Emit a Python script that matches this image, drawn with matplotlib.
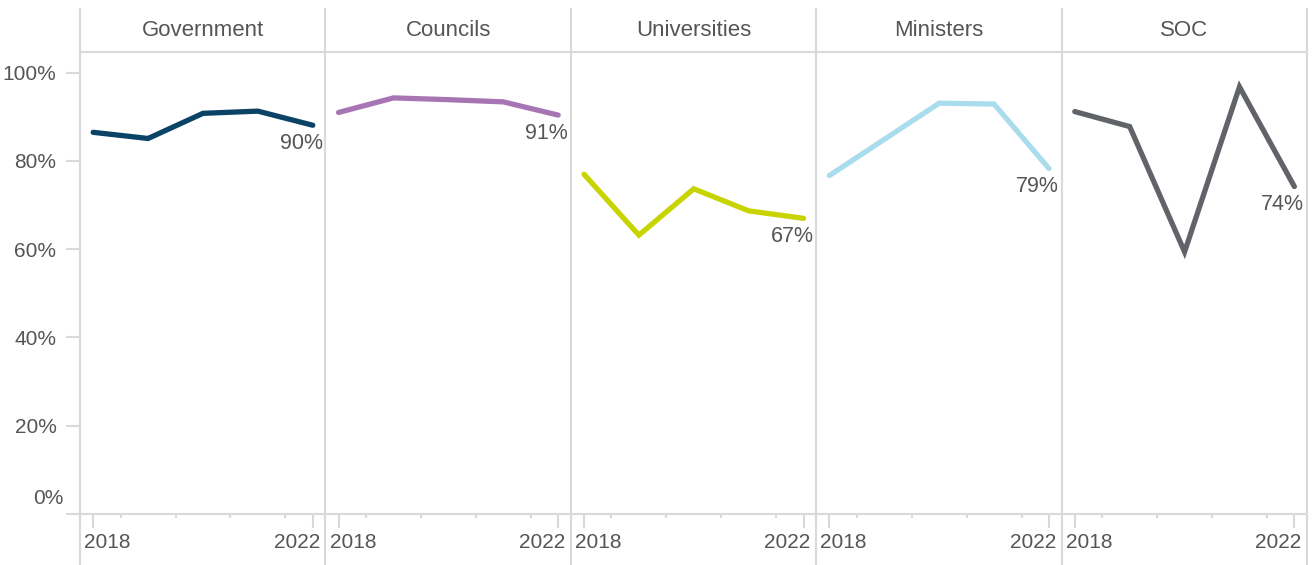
import matplotlib
matplotlib.use('Agg')
import matplotlib.pyplot as plt
from matplotlib.lines import Line2D
import matplotlib.transforms as mtrans

plt.rcParams['font.family'] = ['Liberation Sans', 'DejaVu Sans']

categories = ['Government', 'Councils', 'Universities', 'Ministers', 'SOC']
colors = ['#0b4366', '#a775b4', '#c8d400', '#a9ddee', '#606368']

gov_years = [2018, 2019, 2020, 2021, 2022]
gov_values = [86.5, 85.1, 90.8, 91.3, 88.1]
councils_years = [2018, 2019, 2020, 2021, 2022]
councils_values = [91.0, 94.3, 93.9, 93.4, 90.4]
univ_years = [2018, 2019, 2020, 2021, 2022]
univ_values = [77.0, 63.2, 73.7, 68.7, 67.0]
ministers_years = [2018, 2020, 2021, 2022]
ministers_values = [76.7, 93.1, 92.9, 78.3]
soc_years = [2018, 2019, 2020, 2021, 2022]
soc_values = [91.2, 87.8, 59.4, 96.8, 74.2]

end_labels = ['90%', '91%', '67%', '79%', '74%']
y_ticks = [0, 20, 40, 60, 80, 100]
y_tick_labels = ['0%', '20%', '40%', '60%', '80%', '100%']
x_major = [2018, 2022]
x_major_labels = ['2018', '2022']
x_minor = [2018.5, 2019.5, 2020.5, 2021.5]

series_years = [gov_years, councils_years, univ_years, ministers_years, soc_years]
series_values = [gov_values, councils_values, univ_values, ministers_values, soc_values]

W, H = 1315, 565
fig = plt.figure(figsize=(W / 100, H / 100), dpi=100)
grid = '#d9d9d9'
txt = '#555555'
left0 = 80
pw = 245.4
top = 52
bottom = 514

for i, cat in enumerate(categories):
    l = left0 + i * pw
    ax = fig.add_axes([l / W, (H - bottom) / H, pw / W, (bottom - top) / H])
    ax.patch.set_alpha(0)
    ax.plot(series_years[i], series_values[i], color=colors[i], lw=3.8,
            solid_capstyle='round', solid_joinstyle='miter', clip_on=False, zorder=3)
    ax.set_xlim(2017.76, 2022.23)
    ax.set_ylim(0, 104.7)
    for s in ax.spines.values():
        s.set_visible(False)
    ax.spines['bottom'].set_visible(True)
    ax.spines['bottom'].set_color(grid)
    ax.spines['bottom'].set_linewidth(1.5)
    ax.set_xticks(x_major)
    ax.set_xticks(x_minor, minor=True)
    ax.tick_params(axis='x', which='major', length=10, width=1.5, color=grid, labelbottom=False)
    ax.tick_params(axis='x', which='minor', length=3, width=1.5, color=grid, labelbottom=False)
    # x labels
    t1 = ax.get_xaxis_transform() + mtrans.ScaledTranslation(-0.09, -0.28, fig.dpi_scale_trans)
    t2 = ax.get_xaxis_transform() + mtrans.ScaledTranslation(0.07, -0.28, fig.dpi_scale_trans)
    ax.text(x_major[0], 0, x_major_labels[0], transform=t1, ha='left', va='center',
            fontsize=15, color=txt)
    ax.text(x_major[1], 0, x_major_labels[1], transform=t2, ha='right', va='center',
            fontsize=15, color=txt)
    if i == 0:
        ax.set_yticks(y_ticks)
        ax.set_yticklabels([''] + y_tick_labels[1:])
        ax.tick_params(axis='y', length=10, width=1.5, color=grid, labelsize=15,
                       labelcolor=txt, pad=7)
        t0 = ax.get_yaxis_transform() + mtrans.ScaledTranslation(-0.17, 0.15, fig.dpi_scale_trans)
        ax.text(0, y_ticks[0], y_tick_labels[0], transform=t0, ha='right', va='center',
                fontsize=15, color=txt)
    else:
        ax.set_yticks([])
    ax.annotate(end_labels[i], (series_years[i][-1], series_values[i][-1]),
                xytext=(10, -18), textcoords='offset pixels', ha='right', va='center',
                fontsize=15.5, color=txt, annotation_clip=False)
    fig.text((l + pw / 2) / W, (H - 31) / H, cat, ha='center', va='center',
             fontsize=16, color=txt)

for k in range(6):
    x = left0 + k * pw
    fig.add_artist(Line2D([x / W, x / W], [(H - 9) / H, 0], transform=fig.transFigure,
                          color=grid, lw=1.5, zorder=0))
fig.add_artist(Line2D([left0 / W, (left0 + 5 * pw) / W], [(H - top) / H] * 2,
                      transform=fig.transFigure, color=grid, lw=1.5, zorder=0))

fig.savefig('out.png', dpi=100)
